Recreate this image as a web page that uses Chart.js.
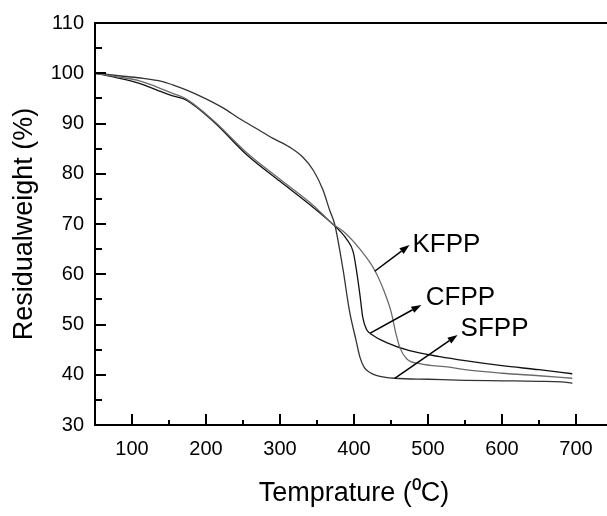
<!DOCTYPE html>
<html>
<head>
<meta charset="utf-8">
<script src="https://cdn.jsdelivr.net/npm/chart.js@4.4.0/dist/chart.umd.min.js"></script>
<style>
  html, body { margin: 0; padding: 0; background: #fff; overflow: hidden; }
  #wrap { width: 620px; height: 516px; }
</style>
</head>
<body>
<div id="wrap"><canvas id="tga" width="620" height="516"></canvas></div>
<script>
// TGA curves (temperature in C, residual weight in %)
const kfppTemp   = [50, 80, 110, 133, 155, 173, 210, 255, 300, 345, 372, 385, 408, 428, 441, 450, 457, 462, 471, 489, 529, 550, 600, 650, 695];
const kfppWeight = [100, 99.3, 98.5, 97.3, 96.0, 94.9, 90.6, 84.2, 78.9, 73.7, 69.9, 68.6, 65.0, 60.8, 56.5, 52.6, 48.0, 45.4, 43.2, 42.2, 41.5, 41.0, 40.3, 39.8, 39.3];

const cfppTemp   = [50, 80, 110, 133, 155, 173, 210, 255, 300, 345, 372, 381, 390, 399, 403, 408, 412, 417, 424, 444, 475, 516, 550, 600, 650, 695];
const cfppWeight = [100, 99.1, 98.0, 96.7, 95.5, 94.7, 90.4, 83.8, 78.5, 73.3, 69.9, 68.6, 67.0, 64.4, 61.1, 55.9, 51.3, 49.0, 48.0, 46.4, 44.8, 43.6, 42.8, 41.8, 41.0, 40.2];

const sfppTemp   = [50, 70, 88, 115, 140, 155, 178, 200, 223, 245, 268, 290, 313, 331, 345, 358, 367, 374, 385, 394, 403, 408, 414, 422, 430, 455, 500, 550, 600, 650, 680, 695];
const sfppWeight = [100, 99.7, 99.4, 99.0, 98.4, 97.7, 96.4, 94.9, 93.1, 91.0, 89.0, 87.1, 85.3, 83.3, 80.7, 76.8, 72.8, 69.9, 61.1, 52.6, 46.7, 43.5, 41.4, 40.4, 39.9, 39.3, 39.1, 38.9, 38.8, 38.7, 38.6, 38.3];

const seriesNames = ['KFPP', 'CFPP', 'SFPP'];

// axis ticks
const xTickValues = [100, 200, 300, 400, 500, 600, 700];
const xMinorTicks = [150, 250, 350, 450, 550, 650];
const yTickValues = [30, 40, 50, 60, 70, 80, 90, 100, 110];
const yMinorTicks = [35, 45, 55, 65, 75, 85, 95, 105];

// annotation arrows: tail on curve -> head near label
const arrowTailT = [428, 422, 455];
const arrowTailW = [60.6, 48.3, 39.3];
const arrowHeadT = [475, 491, 540];
const arrowHeadW = [65.8, 53.9, 47.9];
const labelT     = [479, 497, 544];
const labelW     = [65.8, 55.4, 49.2];

const FONT = '"Liberation Sans", Arial, sans-serif';

function toPoints(ts, ws) {
    return ts.map((t, i) => ({ x: t, y: ws[i] }));
}

const innerTicks = {
    id: 'innerTicks',
    afterDatasetsDraw(chart) {
        const { ctx, chartArea, scales: { x, y } } = chart;
        ctx.save();
        ctx.strokeStyle = '#000';
        ctx.lineWidth = 2;
        ctx.beginPath();
        xTickValues.forEach(v => {
            const px = Math.round(x.getPixelForValue(v));
            ctx.moveTo(px, chartArea.bottom);
            ctx.lineTo(px, chartArea.bottom - 11);
        });
        xMinorTicks.forEach(v => {
            const px = Math.round(x.getPixelForValue(v));
            ctx.moveTo(px, chartArea.bottom);
            ctx.lineTo(px, chartArea.bottom - 5);
        });
        yTickValues.forEach(v => {
            const py = Math.round(y.getPixelForValue(v));
            ctx.moveTo(chartArea.left, py);
            ctx.lineTo(chartArea.left + 11, py);
        });
        yMinorTicks.forEach(v => {
            const py = Math.round(y.getPixelForValue(v));
            ctx.moveTo(chartArea.left, py);
            ctx.lineTo(chartArea.left + 7, py);
        });
        ctx.stroke();
        ctx.restore();
    }
};

const arrowLabels = {
    id: 'arrowLabels',
    afterDatasetsDraw(chart) {
        const { ctx, scales: { x, y } } = chart;
        ctx.save();
        ctx.strokeStyle = '#000';
        ctx.fillStyle = '#000';
        ctx.lineWidth = 1.5;
        seriesNames.forEach((name, i) => {
            const x1 = x.getPixelForValue(arrowTailT[i]);
            const y1 = y.getPixelForValue(arrowTailW[i]);
            const x2 = x.getPixelForValue(arrowHeadT[i]);
            const y2 = y.getPixelForValue(arrowHeadW[i]);
            const ang = Math.atan2(y2 - y1, x2 - x1);
            const len = 10, half = 3.5;
            const bx = x2 - len * Math.cos(ang);
            const by = y2 - len * Math.sin(ang);
            ctx.beginPath();
            ctx.moveTo(x1, y1);
            ctx.lineTo(bx, by);
            ctx.stroke();
            ctx.beginPath();
            ctx.moveTo(x2, y2);
            ctx.lineTo(bx + half * Math.sin(ang), by - half * Math.cos(ang));
            ctx.lineTo(bx - half * Math.sin(ang), by + half * Math.cos(ang));
            ctx.closePath();
            ctx.fill();

            ctx.font = '26px ' + FONT;
            ctx.textAlign = 'left';
            ctx.textBaseline = 'middle';
            ctx.fillText(name, x.getPixelForValue(labelT[i]), y.getPixelForValue(labelW[i]));
        });
        ctx.restore();
    }
};

const lineStyle = (color) => ({
    borderColor: color,
    borderWidth: 1.3,
    pointRadius: 0,
    fill: false,
    cubicInterpolationMode: 'monotone'
});

new Chart(document.getElementById('tga'), {
    type: 'line',
    data: {
        datasets: [
            { label: seriesNames[0], data: toPoints(kfppTemp, kfppWeight), ...lineStyle('#6a6a6a') },
            { label: seriesNames[1], data: toPoints(cfppTemp, cfppWeight), ...lineStyle('#111') },
            { label: seriesNames[2], data: toPoints(sfppTemp, sfppWeight), ...lineStyle('#333') }
        ]
    },
    options: {
        responsive: false,
        animation: false,
        devicePixelRatio: 1,
        layout: { padding: { top: 18, right: 7, left: 0, bottom: 0 } },
        plugins: { legend: { display: false }, tooltip: { enabled: false } },
        scales: {
            x: {
                type: 'linear',
                position: 'bottom',
                min: 50,
                max: 750,
                afterBuildTicks: (s) => { s.ticks = xTickValues.map(v => ({ value: v })); },
                afterFit: (s) => { s.height = 91; },
                grid: { display: false, drawTicks: false },
                border: { display: true, color: '#000', width: 2 },
                ticks: { color: '#000', padding: 12, font: { family: FONT, size: 20 } },
                title: {
                    display: true,
                    text: 'Temprature (\u2070C)',
                    color: '#000',
                    font: { family: FONT, size: 27 },
                    padding: { top: 0, bottom: 6 }
                }
            },
            x2: {
                type: 'linear',
                position: 'top',
                afterFit: (s) => { s.height = 0; },
                grid: { display: false, drawTicks: false },
                border: { display: true, color: '#000', width: 2 },
                ticks: { display: false }
            },
            y: {
                min: 30,
                max: 110,
                afterBuildTicks: (s) => { s.ticks = yTickValues.map(v => ({ value: v })); },
                afterFit: (s) => { s.width = 95; },
                grid: { display: false, drawTicks: false },
                border: { display: true, color: '#000', width: 2 },
                ticks: { color: '#000', padding: 11, font: { family: FONT, size: 20 } },
                title: {
                    display: true,
                    text: 'Residualweight (%)',
                    color: '#000',
                    font: { family: FONT, size: 27 },
                    padding: { top: 8, bottom: 0 }
                }
            }
        }
    },
    plugins: [innerTicks, arrowLabels]
});
</script>
</body>
</html>
